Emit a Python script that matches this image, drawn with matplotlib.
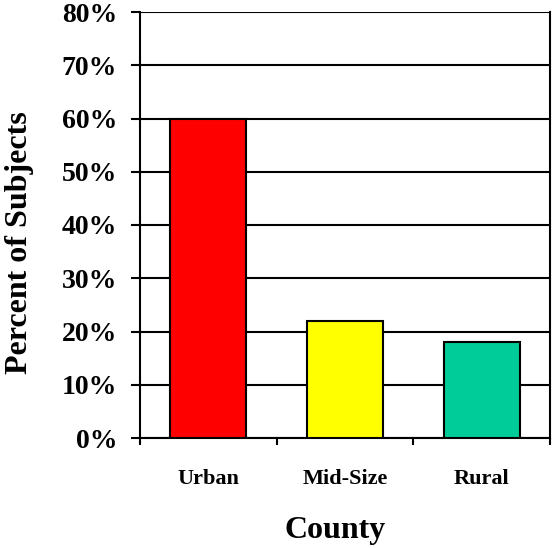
import matplotlib.pyplot as plt
import numpy as np

categories = ["Urban", "Mid-Size", "Rural"]
percents = [60, 22, 18]
colors = ["#ff0000", "#ffff00", "#00cc99"]
y_ticks = [0, 10, 20, 30, 40, 50, 60, 70, 80]

plt.rcParams["font.family"] = ["Liberation Serif", "DejaVu Serif"]
plt.rcParams["font.weight"] = "bold"

fig = plt.figure(figsize=(5.52, 5.48), dpi=100)
ax = fig.add_axes([140 / 552, 110 / 548, 410 / 552, 426 / 548])

x = np.arange(len(categories))
ax.bar(x, percents, width=0.556, color=colors, edgecolor="black", linewidth=1.5, zorder=3)

ax.set_xlim(-0.5, 2.5)
ax.set_ylim(0, 80)
ax.set_yticks(y_ticks)
ax.set_yticklabels([f"{v}%" for v in y_ticks], fontsize=20, fontweight="bold")
ax.yaxis.grid(True, color="black", linewidth=1.5, zorder=0)
ax.tick_params(axis="y", length=6.5, width=1.5, direction="out", pad=10)

ax.set_xticks(x)
ax.set_xticklabels(categories, fontsize=16, fontweight="bold")
ax.tick_params(axis="x", which="major", length=0, pad=22)
ax.set_xticks([-0.5, 0.5, 1.5, 2.5], minor=True)
ax.tick_params(axis="x", which="minor", length=5, width=1.5, direction="out")

ax.spines["top"].set_visible(False)
for s in ["left", "right", "bottom"]:
    ax.spines[s].set_linewidth(1.5)

ax.set_ylabel("Percent of Subjects", fontsize=23, fontweight="bold", labelpad=20)
ax.yaxis.label.set_y(0.459)
ax.set_xlabel("County", fontsize=23, fontweight="bold", labelpad=20)
ax.xaxis.label.set_x(0.476)

fig.savefig("out.png", dpi=100)
